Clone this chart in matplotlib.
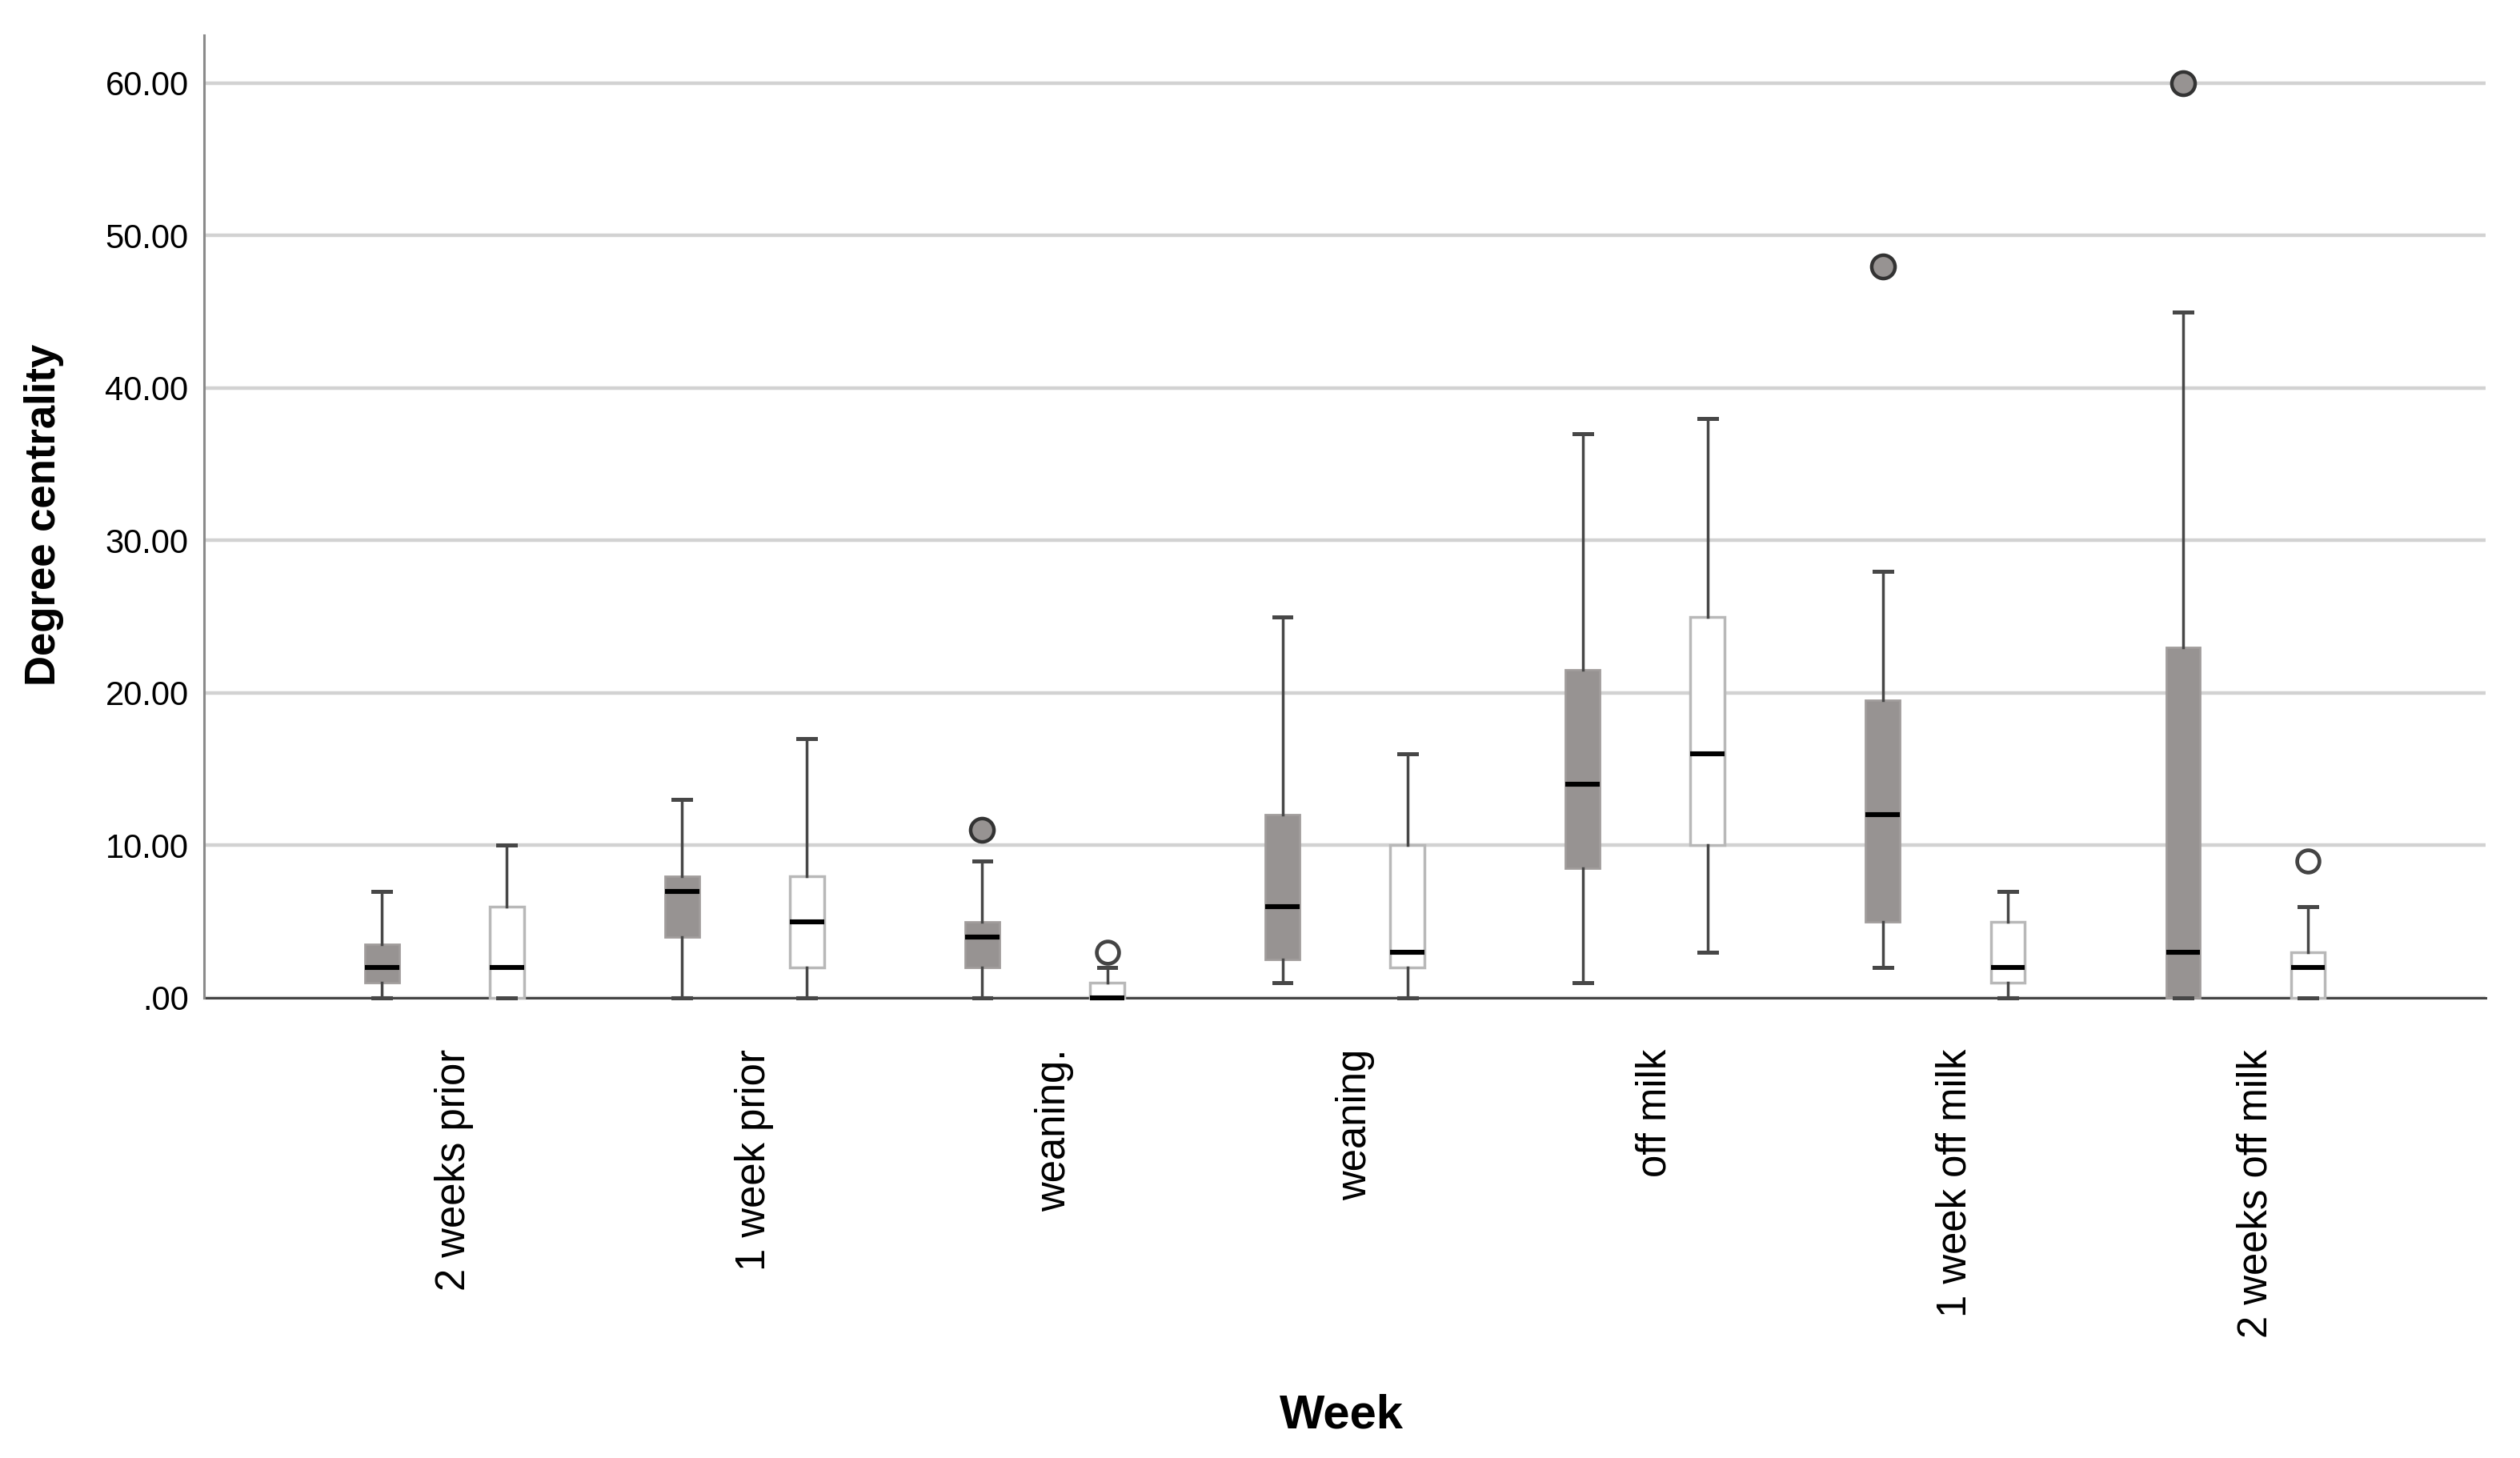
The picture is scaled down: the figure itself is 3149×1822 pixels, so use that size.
import matplotlib
matplotlib.use("Agg")
import matplotlib.pyplot as plt
from matplotlib.ticker import FuncFormatter
from matplotlib.transforms import ScaledTranslation

plt.rcParams['font.family'] = ['Liberation Sans', 'DejaVu Sans']

# week categories on the x axis
weeks = ['2 weeks prior', '1 week prior', 'weaning.', 'weaning',
         'off milk', '1 week off milk', '2 weeks off milk']

# grey group (left box in each week)
grey_low = [0, 0, 0, 1, 1, 2, 0]
grey_q1 = [1, 4, 2, 2.5, 8.5, 5, 0]
grey_med = [2, 7, 4, 6, 14, 12, 3]
grey_q3 = [3.5, 8, 5, 12, 21.5, 19.5, 23]
grey_high = [7, 13, 9, 25, 37, 28, 45]
grey_out = [[], [], [11], [], [], [48], [60]]

# white group (right box in each week)
white_low = [0, 0, 0, 0, 3, 0, 0]
white_q1 = [0, 2, 0, 2, 10, 1, 0]
white_med = [2, 5, 0, 3, 16, 2, 2]
white_q3 = [6, 8, 1, 10, 25, 5, 3]
white_high = [10, 17, 2, 16, 38, 7, 6]
white_out = [[], [], [3], [], [], [], [9]]


def make_stats(low, q1, med, q3, high, out):
    stats = []
    for i in range(len(med)):
        stats.append({'whislo': low[i], 'q1': q1[i], 'med': med[i],
                      'q3': q3[i], 'whishi': high[i], 'fliers': out[i]})
    return stats


fig = plt.figure(figsize=(15.745, 9.11), dpi=200)
ax = fig.add_axes([0.081, 0.3156, 0.9054, 0.6603])

grey_col = '#979392'
line_col = '#474747'
offset = 0.208
bw = 0.114
pos = list(range(len(weeks)))

# grey boxes
ax.bxp(make_stats(grey_low, grey_q1, grey_med, grey_q3, grey_high, grey_out),
       positions=[p - offset for p in pos], widths=bw, patch_artist=True,
       manage_ticks=False, capwidths=0.058,
       boxprops=dict(facecolor=grey_col, edgecolor='#a19d9c', linewidth=1.0),
       whiskerprops=dict(color=line_col, linewidth=1.25),
       capprops=dict(color=line_col, linewidth=1.8),
       medianprops=dict(color='black', linewidth=2.2, solid_capstyle='butt'),
       flierprops=dict(marker='o', markerfacecolor=grey_col, markeredgecolor='#333333',
                       markersize=10.5, markeredgewidth=1.6))

# white boxes
ax.bxp(make_stats(white_low, white_q1, white_med, white_q3, white_high, white_out),
       positions=[p + offset for p in pos], widths=bw, patch_artist=True,
       manage_ticks=False, capwidths=0.058,
       boxprops=dict(facecolor='white', edgecolor='#b8b8b8', linewidth=1.25),
       whiskerprops=dict(color=line_col, linewidth=1.25),
       capprops=dict(color=line_col, linewidth=1.8),
       medianprops=dict(color='black', linewidth=2.2, solid_capstyle='butt'),
       flierprops=dict(marker='o', markerfacecolor='white', markeredgecolor='#444444',
                       markersize=10, markeredgewidth=1.7))

for art in ax.get_children():
    try:
        art.set_clip_on(False)
    except Exception:
        pass

ax.set_xlim(-0.8, len(weeks) - 1 + 0.8)
ax.set_ylim(0, 63.15)
ax.set_yticks([0, 10, 20, 30, 40, 50, 60])
ax.yaxis.set_major_formatter(FuncFormatter(lambda v, p: f"{v:.2f}".lstrip('0') if v < 10 else f"{v:.2f}"))
ax.set_xticks(pos)
ax.set_xticklabels(weeks, rotation=90, fontsize=18.3)
ax.tick_params(axis='both', length=0)
ax.tick_params(axis='y', labelsize=15, pad=7)
ax.tick_params(axis='x', pad=23)
shift = ScaledTranslation(4.5 / 72, 0, fig.dpi_scale_trans)
for lab in ax.get_xticklabels():
    lab.set_transform(lab.get_transform() + shift)

ax.grid(axis='y', color='#d2d2d2', linewidth=1.6)
ax.set_axisbelow(True)

ax.spines['top'].set_visible(False)
ax.spines['right'].set_visible(False)
ax.spines['left'].set_color('#8a8a8a')
ax.spines['left'].set_linewidth(1.1)
ax.spines['bottom'].set_color('#444444')
ax.spines['bottom'].set_linewidth(1.1)
ax.spines['bottom'].set_zorder(1.5)

fig.text(0.0175, 0.647, 'Degree centrality', rotation=90, fontsize=19,
         fontweight='bold', ha='center', va='center')
fig.text(0.5325, 0.029, 'Week', fontsize=21.5, fontweight='bold',
         ha='center', va='center')

fig.savefig('out.png', dpi=200)
